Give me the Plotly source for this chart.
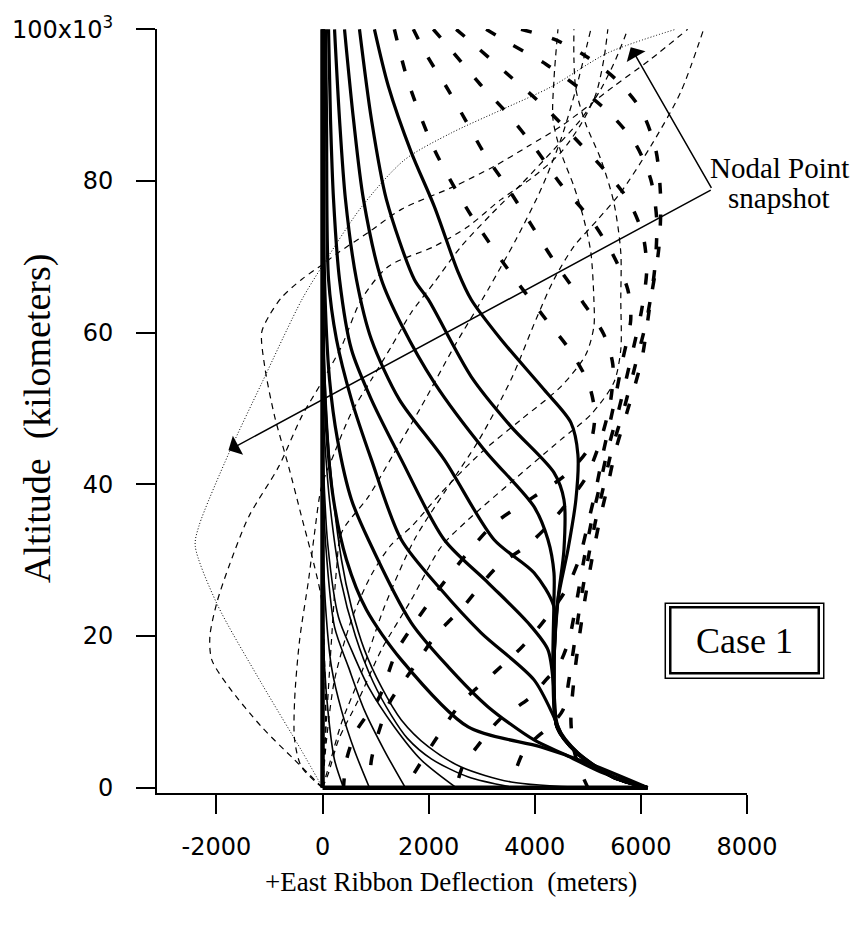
import plotly.graph_objects as go

# ---------------- solid ribbon snapshots (thick) ----------------
solid_a_x = [978, 1241, 1673, 2106, 2557, 2801, 3365, 4174, 4681, 4813, 4775, 4625, 4437, 4362, 4437, 4813, 5490, 6129]
solid_a_y = [100000, 92492, 83780, 76652, 67940, 64376, 59096, 52496, 48140, 43916, 37976, 31376, 24776, 15932, 8012, 4580, 1412, 0]
solid_b_x = [696, 921, 1203, 1730, 1993, 2801, 3553, 4362, 4550, 4550, 4437, 4362, 4420, 4790, 5470, 6129]
solid_b_y = [100000, 88136, 77576, 67016, 64376, 54212, 47612, 41540, 37976, 31376, 24776, 15932, 8012, 4580, 1412, 0]
solid_c_x = [414, 583, 771, 1109, 1485, 2106, 3046, 3986, 4249, 4362, 4362, 4343, 4418, 4794, 5471, 6129]
solid_c_y = [100000, 88136, 77576, 67016, 61076, 53420, 44576, 37052, 32696, 28340, 24776, 15932, 8012, 4580, 1412, 0]
solid_d_x = [226, 320, 432, 639, 921, 1448, 2294, 3234, 3986, 4362, 4362, 4418, 4794, 5471, 6129]
solid_d_y = [100000, 88136, 77576, 67016, 59096, 51176, 43256, 32696, 28340, 23852, 15932, 8012, 4580, 1412, 0]
solid_e_x = [113, 150, 207, 320, 545, 921, 1485, 2294, 3121, 3873, 4249, 4362, 4418, 4794, 5471, 6129]
solid_e_y = [100000, 88136, 77576, 67016, 57776, 51176, 43256, 32696, 27020, 21740, 18176, 12896, 8012, 4580, 1412, 0]
solid_f_x = [56, 75, 113, 263, 545, 921, 1485, 2237, 2989, 3986, 4362, 4531, 4813, 5471, 6129]
solid_f_y = [100000, 88136, 67016, 59096, 51176, 43256, 32696, 26096, 20420, 14216, 9332, 6692, 4580, 1412, 0]
solid_g_x = [19, 38, 132, 282, 545, 865, 1673, 2369, 3121, 3986, 4587, 5245, 6129]
solid_g_y = [100000, 67016, 53816, 45896, 37976, 32696, 21740, 15932, 10652, 6296, 4316, 2072, 0]
solid_h_x = [0, 19, 75, 207, 451, 827, 1485, 2745, 4117, 5001, 6129]
solid_h_y = [100000, 57776, 47216, 37976, 30056, 23456, 16856, 8012, 5372, 3260, 0]

# initial (undeflected) ribbon and ground trace
vertical_x = [0, 0]
vertical_y = [0, 100000]
ground_x = [0, 6129]
ground_y = [0, 0]

# ---------------- solid ribbon snapshots (thin, early times) ----------------
thin_1_x = [395, 226, 113, 38, 0]
thin_1_y = [0, 3656, 9332, 15932, 26000]
thin_2_x = [884, 602, 357, 169, 56, 0]
thin_2_y = [0, 4900, 10200, 15900, 24000, 34000]
thin_3_x = [1560, 1166, 790, 489, 226, 60, 0]
thin_3_y = [0, 4900, 10200, 15900, 21200, 32000, 42000]
thin_4_x = [2519, 1861, 1354, 865, 545, 300, 100, 20, 0]
thin_4_y = [0, 3656, 8012, 13292, 18176, 22500, 32000, 42000, 50000]
thin_5_x = [3610, 2750, 2050, 1600, 1300, 950, 620, 340, 130, 0]
thin_5_y = [0, 1400, 3800, 6500, 9500, 14000, 20000, 27500, 38000, 50000]
thin_6_x = [5001, 3553, 2613, 1993, 1485, 1109, 790, 545, 357, 150, 40, 0]
thin_6_y = [0, 752, 2732, 5400, 8936, 13292, 18176, 23800, 30056, 42000, 55000, 65000]

# ---------------- heavy dashed snapshots (bowed shapes) ----------------
heavy_a_x = [1354, 1617, 2106, 2764, 3591, 4211, 4681, 5020, 5132, 5020, 4587, 3986, 3234, 2707, 2181, 1767, 1391, 1072, 639, 451, 395]
heavy_a_y = [100000, 93020, 84176, 75860, 67412, 61736, 57512, 53156, 49196, 44840, 41276, 38372, 34808, 30716, 26096, 22004, 17912, 11972, 7484, 3656, 0]
heavy_b_x = [1711, 1974, 2350, 2707, 3046, 3459, 3929, 4343, 4869, 5302, 5471, 5433, 5245, 4963, 4587, 4211, 3873, 3271, 2651, 2143, 1711, 1260, 1053, 921, 884]
heavy_b_y = [100000, 96452, 92228, 87872, 83648, 79424, 74276, 69656, 64376, 59756, 55796, 51176, 45896, 40880, 37316, 34280, 32036, 29000, 23852, 20156, 15800, 11180, 7220, 3656, 0]
heavy_c_x = [2087, 2444, 2970, 3497, 4023, 4493, 5057, 5471, 5753, 5809, 5659, 5471, 5302, 5151, 5020, 4832, 4587, 4305, 3779, 3234, 2613, 2162, 1824, 1560]
heavy_c_y = [100000, 97112, 92756, 88796, 84176, 79556, 74936, 70316, 65696, 61736, 56456, 49856, 44576, 39296, 35336, 30056, 26096, 23192, 18704, 15140, 11180, 6692, 2996, 0]
heavy_d_x = [2519, 2933, 3553, 4174, 4775, 5302, 5753, 6035, 6110, 6016, 5809, 5584, 5377, 5208, 5076, 4926, 4794, 4644, 4456, 4211, 3929, 3328, 2895, 2651, 2519]
heavy_d_y = [100000, 97508, 93680, 89852, 85496, 81536, 77576, 72956, 68336, 63056, 56456, 49856, 44576, 39296, 35336, 30056, 24776, 19496, 16196, 14216, 11972, 8936, 5240, 2996, 0]
heavy_e_x = [3083, 3553, 4211, 4869, 5433, 5903, 6185, 6298, 6260, 6110, 5922, 5678, 5452, 5283, 5151, 5001, 4869, 4756, 4644, 4531, 4305, 4023, 3835, 3647, 3610]
heavy_e_y = [100000, 98036, 95396, 92096, 88796, 84836, 80216, 74936, 68336, 61736, 56456, 49856, 44576, 39296, 35336, 30056, 24776, 19496, 14216, 10256, 8276, 6560, 5372, 2336, 0]
heavy_f_x = [3741, 4362, 4963, 5527, 5997, 6279, 6373, 6336, 6185, 6016, 5753, 5527, 5358, 5226, 5076, 4944, 4832, 4738, 4681, 4738, 4869, 5001]
heavy_f_y = [100000, 98696, 96452, 93416, 89456, 84176, 77576, 70976, 64376, 56456, 49856, 44576, 39296, 35336, 30056, 24776, 19496, 14216, 8936, 4976, 2072, 0]

# ---------------- nodal-point snapshot (light dashed) ----------------
node_a_x = [0, -526, -1147, -1767, -2087, -2124, -1993, -1767, -1391, -827, -395, -19, 357, 733, 1241, 2106, 2745, 3365, 3986, 4493, 4869, 5151, 5302, 5377]
node_a_y = [0, 3656, 8012, 13292, 16856, 19892, 24380, 29132, 35732, 42332, 48932, 53420, 58172, 64376, 68732, 71372, 74012, 77576, 80612, 83780, 87476, 91436, 96056, 100000]
node_b_x = [0, 56, 38, -19, -150, -395, -639, -902, -1090, -1147, -1015, -771, -395, 0, 301, 865, 1485, 2482, 3234, 3873, 4493, 4999, 5490, 6185, 6881]
node_b_y = [0, 8936, 16856, 24776, 29132, 35732, 42332, 48932, 55532, 60020, 62132, 64640, 67016, 68996, 70580, 73220, 76256, 79292, 81932, 84572, 87212, 89852, 92492, 96056, 100000]
node_c_x = [0, -395, -526, -526, -432, -263, -150, -19, 226, 545, 921, 1297, 1673, 2106, 2613, 3177, 3741, 4362, 4869, 5245, 5527, 5753]
node_c_y = [0, 2732, 6296, 11576, 19496, 27416, 33620, 39692, 44180, 49460, 53816, 58172, 62660, 66620, 71372, 75596, 79556, 84176, 88136, 92096, 96056, 100000]
node_d_x = [0, 75, 169, 263, 357, 865, 1354, 1861, 2482, 3121, 3647, 4117, 4493, 4775, 5057]
node_d_y = [0, 8936, 19496, 28736, 33620, 38372, 44180, 50252, 58172, 65696, 72296, 78896, 85496, 92096, 100000]
node_e_x = [0, 75, 226, 545, 921, 1297, 1673, 2237, 2989, 3741, 4493, 4963, 5114, 5114, 5057, 4926, 4738, 4493, 4343, 4362, 4437]
node_e_y = [0, 6296, 14216, 22136, 28076, 32036, 34412, 38900, 44180, 48536, 52892, 57116, 60812, 64376, 70580, 74936, 79292, 83780, 88136, 93416, 100000]
node_f_x = [0, 113, 301, 677, 1109, 1673, 2237, 2745, 3610, 4493, 5057, 5490, 5621, 5621, 5621, 5490, 5245, 4963, 4775, 4738, 4738]
node_f_y = [0, 1940, 6296, 11576, 18176, 24776, 31772, 35336, 40616, 45896, 49196, 53420, 57776, 64376, 70580, 77180, 82856, 87476, 92096, 96056, 100000]
node_g_x = [0, 169, 357, 733, 1166, 1730, 2331, 2952, 3553, 4023, 4362, 4738, 5189, 5621, 6185, 6749, 7182]
node_g_y = [0, 4052, 8540, 15140, 23852, 32696, 39296, 45896, 53816, 61736, 67016, 71372, 74936, 78500, 84572, 91700, 100000]

# dotted snapshot
dotted_x = [0, -395, -1147, -1993, -2400, -2330, -1767, -1147, -395, -19, 733, 1542, 2425, 3365, 4305, 5377, 6655]
dotted_y = [0, 4884, 13728, 24288, 31900, 34500, 44088, 53328, 64284, 68640, 76560, 82764, 86328, 89364, 92400, 96888, 100000]

# axis ticks
x_tick_vals = [-2000, 0, 2000, 4000, 6000, 8000]
x_tick_text = ["-2000", "0", "2000", "4000", "6000", "8000"]
y_tick_vals = [0, 20000, 40000, 60000, 80000, 100000]
y_tick_text = ["0", "20", "40", "60", "80", "100x10<sup>3</sup>"]

# annotation arrow anchors (data units)
label_anchor = (7345, 78896)
arrow_low_tip = (-1773, 44484)
arrow_high_tip = (5809, 97640)

fig = go.Figure()


def add_curve(xs, ys, width, dash="solid", smooth=True):
    fig.add_trace(go.Scatter(
        x=xs, y=ys, mode="lines", showlegend=False, hoverinfo="skip",
        line=dict(color="black", width=width, dash=dash,
                  shape="spline" if smooth else "linear", smoothing=0.8),
    ))


light_dash = "6px,5px"
for xs, ys in [(node_a_x, node_a_y), (node_b_x, node_b_y), (node_c_x, node_c_y),
               (node_d_x, node_d_y), (node_e_x, node_e_y), (node_f_x, node_f_y),
               (node_g_x, node_g_y)]:
    add_curve(xs, ys, 1.2, light_dash)
add_curve(dotted_x, dotted_y, 1.0, "1px,2px")

heavy_dash = "11px,21px"
for xs, ys in [(heavy_a_x, heavy_a_y), (heavy_b_x, heavy_b_y), (heavy_c_x, heavy_c_y),
               (heavy_d_x, heavy_d_y), (heavy_e_x, heavy_e_y), (heavy_f_x, heavy_f_y)]:
    add_curve(xs, ys, 3.5, heavy_dash)

for xs, ys in [(thin_1_x, thin_1_y), (thin_2_x, thin_2_y), (thin_3_x, thin_3_y),
               (thin_4_x, thin_4_y), (thin_5_x, thin_5_y), (thin_6_x, thin_6_y)]:
    add_curve(xs, ys, 1.6)

for xs, ys in [(solid_a_x, solid_a_y), (solid_b_x, solid_b_y), (solid_c_x, solid_c_y),
               (solid_d_x, solid_d_y), (solid_e_x, solid_e_y), (solid_f_x, solid_f_y),
               (solid_g_x, solid_g_y), (solid_h_x, solid_h_y)]:
    add_curve(xs, ys, 3.2)

add_curve(vertical_x, vertical_y, 4.5, smooth=False)
add_curve(ground_x, ground_y, 4.5, smooth=False)

tick_font = dict(family="DejaVu Sans", size=24, color="black")
serif = "Liberation Serif"

fig.update_layout(
    width=852, height=936,
    margin=dict(l=155, r=105, t=28, b=143),
    paper_bgcolor="white", plot_bgcolor="white",
    xaxis=dict(range=[-3120, 8000], showgrid=False, zeroline=False,
               showline=True, linecolor="black", linewidth=2,
               ticks="outside", ticklen=19, tickwidth=2, tickcolor="black",
               tickvals=x_tick_vals, ticktext=x_tick_text, tickfont=tick_font,
               ticklabelstandoff=12),
    yaxis=dict(range=[-700, 100040], showgrid=False, zeroline=False,
               showline=True, linecolor="black", linewidth=2,
               ticks="outside", ticklen=19, tickwidth=2, tickcolor="black",
               tickvals=y_tick_vals, ticktext=y_tick_text, tickfont=tick_font,
               ticklabelstandoff=18),
)

annotations = [
    dict(x=0.4983, y=-0.1163, xref="paper", yref="paper", showarrow=False,
         text="+East Ribbon Deflection\u00a0\u00a0(meters)",
         font=dict(family=serif, size=27, color="black"),
         xanchor="center", yanchor="middle"),
    dict(x=-0.2027, y=(793 - 418) / 765, xref="paper", yref="paper", showarrow=False,
         text="Altitude\u00a0\u00a0(kilometers)", textangle=-90,
         font=dict(family=serif, size=38, color="black"),
         xanchor="center", yanchor="middle"),
    dict(x=1.055, y=(793 - 167) / 765, xref="paper", yref="paper", showarrow=False,
         text="Nodal Point", font=dict(family=serif, size=29, color="black"),
         xanchor="center", yanchor="middle"),
    dict(x=1.055, y=(793 - 197) / 765, xref="paper", yref="paper", showarrow=False,
         text="snapshot", font=dict(family=serif, size=29, color="black"),
         xanchor="center", yanchor="middle"),
    dict(x=0.9958, y=0.1993, xref="paper", yref="paper", showarrow=False,
         text="Case 1", font=dict(family=serif, size=36, color="black"),
         xanchor="center", yanchor="middle"),
]
for tip in (arrow_low_tip, arrow_high_tip):
    annotations.append(dict(
        x=tip[0], y=tip[1], xref="x", yref="y",
        ax=label_anchor[0], ay=label_anchor[1], axref="x", ayref="y",
        text="", showarrow=True, arrowhead=1, arrowsize=2.4,
        arrowwidth=1.5, arrowcolor="black", standoff=0, startstandoff=0,
    ))
fig.update_layout(annotations=annotations)

# double-ruled frame around the case label
fig.add_shape(type="rect", xref="paper", yref="paper",
              x0=(665 - 155) / 592, x1=(824 - 155) / 592,
              y0=(793 - 678) / 765, y1=(793 - 603) / 765,
              line=dict(color="black", width=1.5))
fig.add_shape(type="rect", xref="paper", yref="paper",
              x0=(670 - 155) / 592, x1=(819 - 155) / 592,
              y0=(793 - 673) / 765, y1=(793 - 607) / 765,
              line=dict(color="black", width=2.5))

fig.write_html("out.html")
